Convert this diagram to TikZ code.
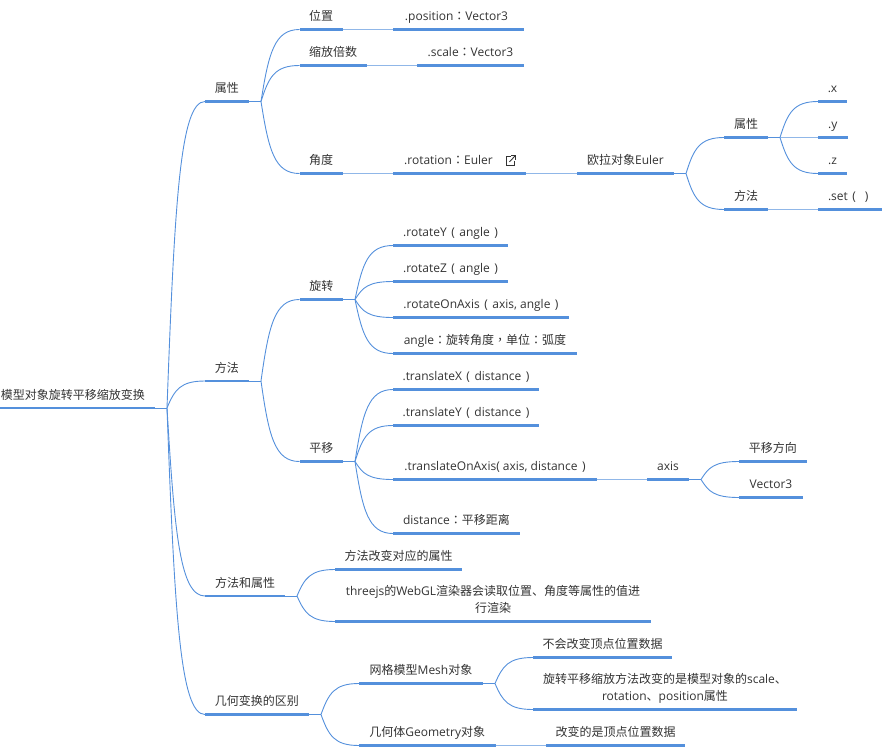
\documentclass[tikz,border=0pt]{standalone}
\usepackage{fontspec}
\setmainfont{Open Sans}
\newfontfamily\cjk{Noto Sans CJK SC}
\newfontfamily\cjkc{Noto Sans CJK TC}
\usetikzlibrary{calc}
\definecolor{barblue}{HTML}{5490DC}
\definecolor{inkgrey}{HTML}{333333}
\newcommand{\cln}{{\cjkc ：}}
\newcommand{\cma}{{\cjkc ，}}
\newcommand{\lpar}{\hspace{4.5pt}(\hspace{4.5pt}}
\newcommand{\rpar}{\hspace{4.5pt})}
\tikzstyle{bar} = [draw=barblue, line width=2.8pt]
\tikzstyle{topic} = [anchor=south west, inner xsep=0pt, inner ysep=6pt, outer sep=0pt, text depth=3pt, text=inkgrey, font=\fontsize{12}{17}\selectfont,
    append after command={\pgfextra{\draw [bar] (\tikzlastnode.south west) -- (\tikzlastnode.south east);}}]
\tikzstyle{line} = [draw=barblue, line width=0.9pt]
\tikzstyle{link} = [draw=barblue!65, line width=1.2pt]
\tikzstyle{fan} = [to path={let \p1=(\tikztostart), \p2=(\tikztotarget) in
    .. controls ({\x1+0.2*(\x2-\x1)},{\y1+0.675*(\y2-\y1)}) and ({\x1+0.35*(\x2-\x1)},\y2) .. (\p2)}]
\tikzstyle{icon} = [draw=inkgrey, line width=0.9pt]

\begin{document}
\begin{tikzpicture}[x=1pt, y=-1pt]
        \useasboundingbox (0, 0) rectangle (889, 755);

        % Place nodes
        \node at (0, 408) [topic, minimum width=155] (root) {{\cjk 模型对象旋转平移缩放变换}\hspace*{9pt}};
        \node at (205, 101.5) [topic, minimum width=43.5] (attr) {\cjk 属性};
        \node at (205, 381) [topic, minimum width=43.5] (meth) {\cjk 方法};
        \node at (205, 596) [topic, minimum width=80] (both) {\cjk 方法和属性};
        \node at (205, 714.5) [topic, minimum width=103.5] (diff) {\cjk 几何变换的区别};

        \node at (299.5, 29.5) [topic, minimum width=43] (pos) {\cjk 位置};
        \node at (299.5, 65.5) [topic, minimum width=67] (scl) {\cjk 缩放倍数};
        \node at (299.5, 173.5) [topic, minimum width=43] (ang) {\cjk 角度};
        \node at (393, 29.5) [topic, minimum width=131] (posv) {.position\cln Vector3\hspace*{4pt}};
        \node at (417, 65.5) [topic, minimum width=107] (sclv) {.scale\cln Vector3};
        \node at (393, 173.5) [topic, minimum width=133] (rotv) {.rotation\cln Euler\hspace*{22pt}};

        \node at (577, 173.5) [topic, minimum width=97] (euler) {{\cjk 欧拉对象}Euler};
        \node at (724, 137.5) [topic, minimum width=44] (eattr) {\cjk 属性};
        \node at (724, 209.5) [topic, minimum width=44] (emeth) {\cjk 方法};
        \node at (818, 101.5) [topic, minimum width=29] (ex) {.x};
        \node at (818, 137.5) [topic, minimum width=29.5] (ey) {.y};
        \node at (818, 173.5) [topic, minimum width=29] (ez) {.z};
        \node at (818, 209.5) [topic, minimum width=63.5] (eset) {.set\lpar\rpar\hspace*{3pt}};

        \node at (299.5, 299.5) [topic, minimum width=43.5] (rot) {\cjk 旋转};
        \node at (299.5, 461.5) [topic, minimum width=43.5] (trans) {\cjk 平移};
        \node at (393, 245.5) [topic, minimum width=115] (ry) {.rotateY\lpar angle\rpar};
        \node at (393, 281.5) [topic, minimum width=115] (rz) {.rotateZ\lpar angle\rpar};
        \node at (393, 317.5) [topic, minimum width=176] (roa) {.rotateOnAxis\lpar axis, angle\rpar};
        \node at (393, 353.5) [topic, minimum width=184] (rang) {angle\cln{\cjk 旋转角度}\cma{\cjk 单位}\cln{\cjk 弧度}};
        \node at (393, 389.5) [topic, minimum width=146] (tx) {.translateX\lpar distance\rpar};
        \node at (393, 425.5) [topic, minimum width=146] (ty) {.translateY\lpar distance\rpar};
        \node at (393, 479.5) [topic, minimum width=204] (toa) {.translateOnAxis( axis, distance\rpar};
        \node at (393, 533.5) [topic, minimum width=127] (tdist) {distance\cln{\cjk 平移距离}};
        \node at (647, 479.5) [topic, minimum width=42] (axis) {axis};
        \node at (739, 461.5) [topic, minimum width=67.5] (adir) {\cjk 平移方向};
        \node at (739, 497.5) [topic, minimum width=64] (avec) {Vector3};

        \node at (335, 569.5) [topic, minimum width=127] (note) {\cjk 方法改变对应的属性};
        \node at (335, 621.5) [topic, minimum width=316, align=center] (render) {threejs{\cjk 的}WebGL{\cjk 渲染器会读取位置、角度等属性的值进}\\{\cjk 行渲染}};
        \node at (359, 683.5) [topic, minimum width=124] (mesh) {{\cjk 网格模型}Mesh{\cjk 对象}};
        \node at (359, 745.5) [topic, minimum width=136.5] (geom) {{\cjk 几何体}Geometry{\cjk 对象}};
        \node at (533, 657.5) [topic, minimum width=139] (mkeep) {\cjk 不会改变顶点位置数据};
        \node at (533, 709.5) [topic, minimum width=264, align=center] (mprop) {{\cjk 旋转平移缩放方法改变的是模型对象的}scale{\cjk 、}\\rotation{\cjk 、}position{\cjk 属性}};
        \node at (546, 745.5) [topic, minimum width=139] (gvert) {\cjk 改变的是顶点位置数据};

        % Fork points
        \coordinate (froot) at (167, 408);
        \coordinate (fattr) at (261, 101.5);
        \coordinate (feuler) at (686, 173.5);
        \coordinate (feattr) at (780, 137.5);
        \coordinate (fmeth) at (261, 381);
        \coordinate (frot) at (355, 299.5);
        \coordinate (ftrans) at (355, 461.5);
        \coordinate (faxis) at (701, 479.5);
        \coordinate (fboth) at (297, 596);
        \coordinate (fdiff) at (321, 714.5);
        \coordinate (fmesh) at (495, 683.5);

        % Draw edges
        \path [line] (root.south east) -- (froot);
        \path [line] (froot) to [fan] (attr.south west);
        \path [line] (froot) to [fan] (meth.south west);
        \path [line] (froot) to [fan] (both.south west);
        \path [line] (froot) to [fan] (diff.south west);

        \path [line] (attr.south east) -- (fattr);
        \path [line] (fattr) to [fan] (pos.south west);
        \path [line] (fattr) to [fan] (scl.south west);
        \path [line] (fattr) to [fan] (ang.south west);
        \path [link] (pos.south east) -- (posv.south west);
        \path [link] (scl.south east) -- (sclv.south west);
        \path [link] (ang.south east) -- (rotv.south west);
        \path [link] (rotv.south east) -- (euler.south west);

        \path [line] (euler.south east) -- (feuler);
        \path [line] (feuler) to [fan] (eattr.south west);
        \path [line] (feuler) to [fan] (emeth.south west);
        \path [line] (eattr.south east) -- (feattr);
        \path [line] (feattr) to [fan] (ex.south west);
        \path [link] (feattr) -- (ey.south west);
        \path [line] (feattr) to [fan] (ez.south west);
        \path [link] (emeth.south east) -- (eset.south west);

        \path [line] (meth.south east) -- (fmeth);
        \path [line] (fmeth) to [fan] (rot.south west);
        \path [line] (fmeth) to [fan] (trans.south west);
        \path [line] (rot.south east) -- (frot);
        \path [line] (frot) to [fan] (ry.south west);
        \path [line] (frot) to [fan] (rz.south west);
        \path [line] (frot) to [fan] (roa.south west);
        \path [line] (frot) to [fan] (rang.south west);
        \path [line] (trans.south east) -- (ftrans);
        \path [line] (ftrans) to [fan] (tx.south west);
        \path [line] (ftrans) to [fan] (ty.south west);
        \path [line] (ftrans) to [fan] (toa.south west);
        \path [line] (ftrans) to [fan] (tdist.south west);
        \path [link] (toa.south east) -- (axis.south west);
        \path [line] (axis.south east) -- (faxis);
        \path [line] (faxis) to [fan] (adir.south west);
        \path [line] (faxis) to [fan] (avec.south west);

        \path [line] (both.south east) -- (fboth);
        \path [line] (fboth) to [fan] (note.south west);
        \path [line] (fboth) to [fan] (render.south west);

        \path [line] (diff.south east) -- (fdiff);
        \path [line] (fdiff) to [fan] (mesh.south west);
        \path [line] (fdiff) to [fan] (geom.south west);
        \path [line] (mesh.south east) -- (fmesh);
        \path [line] (fmesh) to [fan] (mkeep.south west);
        \path [line] (fmesh) to [fan] (mprop.south west);
        \path [link] (geom.south east) -- (gvert.south west);

        % Link mark behind the rotation entry
        \path [icon] (511, 156.8) -- (506, 156.8) -- (506, 165.5) -- (514.5, 165.5) -- (514.5, 160.5);
        \path [icon] (509.5, 161.8) -- (515, 156);
        \path [icon] (511.3, 155.6) -- (515.2, 155.6) -- (515.2, 159.5);
\end{tikzpicture}
\end{document}
